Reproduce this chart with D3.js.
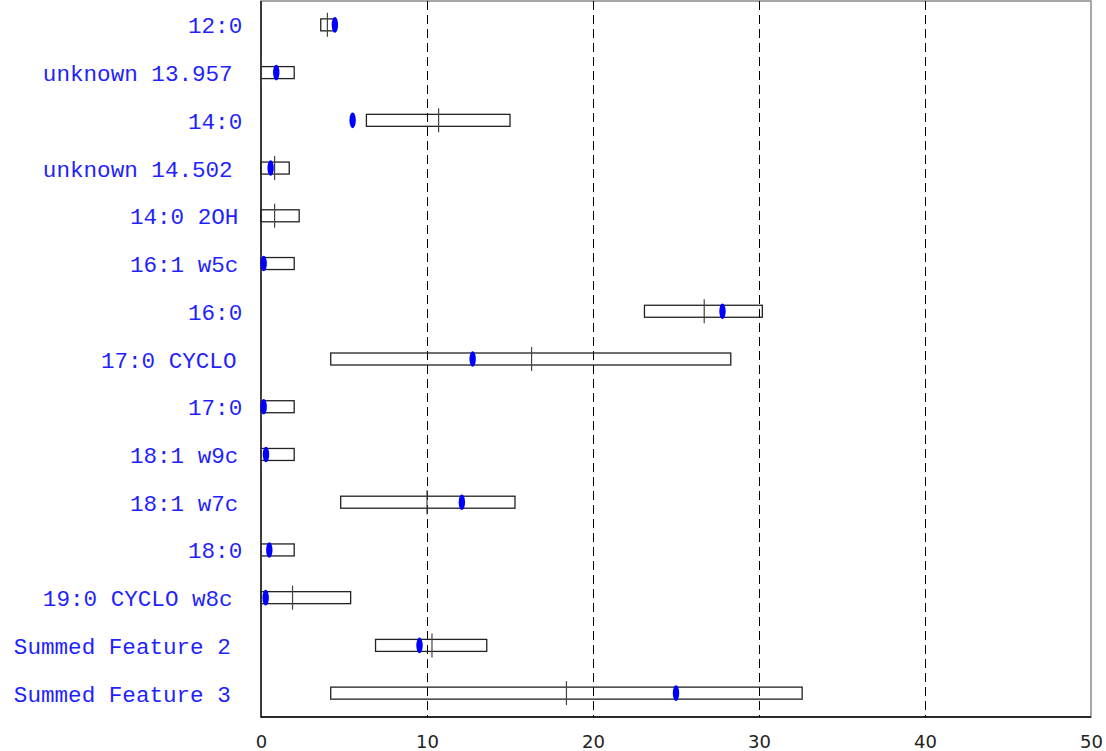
<!DOCTYPE html>
<html>
<head>
<meta charset="utf-8">
<script src="https://cdn.jsdelivr.net/npm/d3@7"></script>
<style>
  html, body { margin: 0; padding: 0; background: #fff; }
  svg { display: block; }
</style>
</head>
<body>
<svg id="chart" width="1106" height="751"></svg>
<script>
// Fatty acid profile: library range (box), library median (tick) and strain value (blue mark)
const categories = ["12:0", "unknown 13.957", "14:0", "unknown 14.502", "14:0 2OH",
  "16:1 w5c", "16:0", "17:0 CYCLO", "17:0", "18:1 w9c", "18:1 w7c", "18:0",
  "19:0 CYCLO w8c", "Summed Feature 2", "Summed Feature 3"];
const rangeMin = [3.6, 0, 6.35, 0, 0, 0, 23.1, 4.2, 0, 0, 4.8, 0, 0, 6.9, 4.2];
const rangeMax = [4.4, 2.0, 15.0, 1.7, 2.3, 2.0, 30.2, 28.3, 2.0, 2.0, 15.3, 2.0, 5.4, 13.6, 32.6];
const medians = [4.0, 0, 10.7, 0.82, 0.82, 0, 26.7, 16.3, 0, 0, 10.0, 0, 1.9, 10.3, 18.4];
const strainValues = [4.45, 0.92, 5.52, 0.58, null, 0.16, 27.8, 12.75, 0.16, 0.3, 12.1, 0.5, 0.28, 9.55, 25.0];
const xTicks = [0, 10, 20, 30, 40, 50];
const gridTicks = [10, 20, 30, 40];

const rows = categories.map((name, i) => ({
  name, lo: rangeMin[i], hi: rangeMax[i], med: medians[i], val: strainValues[i]
}));

const svg = d3.select("#chart");
const plotLeft = 261, plotRight = 1091, plotTop = 1, plotBottom = 717;

const x = d3.scaleLinear().domain([0, 50]).range([plotLeft, plotRight]);
const y = d3.scaleBand().domain(categories).range([plotTop, plotBottom]);
const cy = d => y(d) + y.bandwidth() / 2;

// plot frame
svg.append("rect")
  .attr("x", plotLeft).attr("y", plotTop)
  .attr("width", plotRight - plotLeft).attr("height", plotBottom - plotTop)
  .attr("fill", "none").attr("stroke", "#8a8a8a").attr("stroke-width", 1.5);

// dashed vertical grid
svg.append("g").selectAll("line").data(gridTicks).join("line")
  .attr("x1", d => Math.round(x(d)) + 0.5).attr("x2", d => Math.round(x(d)) + 0.5)
  .attr("y1", plotTop).attr("y2", plotBottom)
  .attr("stroke", "#000").attr("stroke-width", 1)
  .attr("stroke-dasharray", "9,5");

// left and bottom axis lines
svg.append("line").attr("x1", plotLeft).attr("x2", plotLeft).attr("y1", plotTop).attr("y2", plotBottom + 0.5)
  .attr("stroke", "#000").attr("stroke-width", 1.3);
svg.append("line").attr("x1", plotLeft).attr("x2", plotRight).attr("y1", plotBottom).attr("y2", plotBottom)
  .attr("stroke", "#000").attr("stroke-width", 1.3);

// x axis labels
const xAxis = d3.axisBottom(x).tickValues(xTicks).tickSize(0).tickPadding(18).tickFormat(d3.format("d"));
const gx = svg.append("g").attr("transform", `translate(0,${plotBottom})`).call(xAxis);
gx.select(".domain").remove();
gx.selectAll("text")
  .attr("font-family", "DejaVu Sans, sans-serif")
  .attr("font-size", 18)
  .attr("fill", "#222");

// category labels
svg.append("g").selectAll("text").data(rows).join("text")
  .attr("x", d => 246 - 0.95 * d.name.length)
  .attr("y", d => cy(d.name) + 8.5)
  .attr("text-anchor", "end")
  .attr("font-family", "'Courier New', Courier, 'Nimbus Mono PS', FreeMono, 'Liberation Mono', monospace")
  .attr("font-size", 22.6)
  .attr("fill", "#1f1fff")
  .text(d => d.name);

// range boxes
svg.append("g").selectAll("rect").data(rows).join("rect")
  .attr("x", d => x(d.lo))
  .attr("y", d => cy(d.name) - 6)
  .attr("width", d => x(d.hi) - x(d.lo))
  .attr("height", 12)
  .attr("fill", "none")
  .attr("stroke", "#222")
  .attr("stroke-width", 1.3);

// median ticks
svg.append("g").selectAll("line").data(rows).join("line")
  .attr("x1", d => x(d.med)).attr("x2", d => x(d.med))
  .attr("y1", d => cy(d.name) - 12).attr("y2", d => cy(d.name) + 12)
  .attr("stroke", "#444").attr("stroke-width", 1.2);

// strain values
svg.append("g").selectAll("ellipse").data(rows.filter(d => d.val !== null)).join("ellipse")
  .attr("cx", d => x(d.val))
  .attr("cy", d => cy(d.name))
  .attr("rx", 3.2).attr("ry", 7.8)
  .attr("fill", "#0000ff");
</script>
</body>
</html>
